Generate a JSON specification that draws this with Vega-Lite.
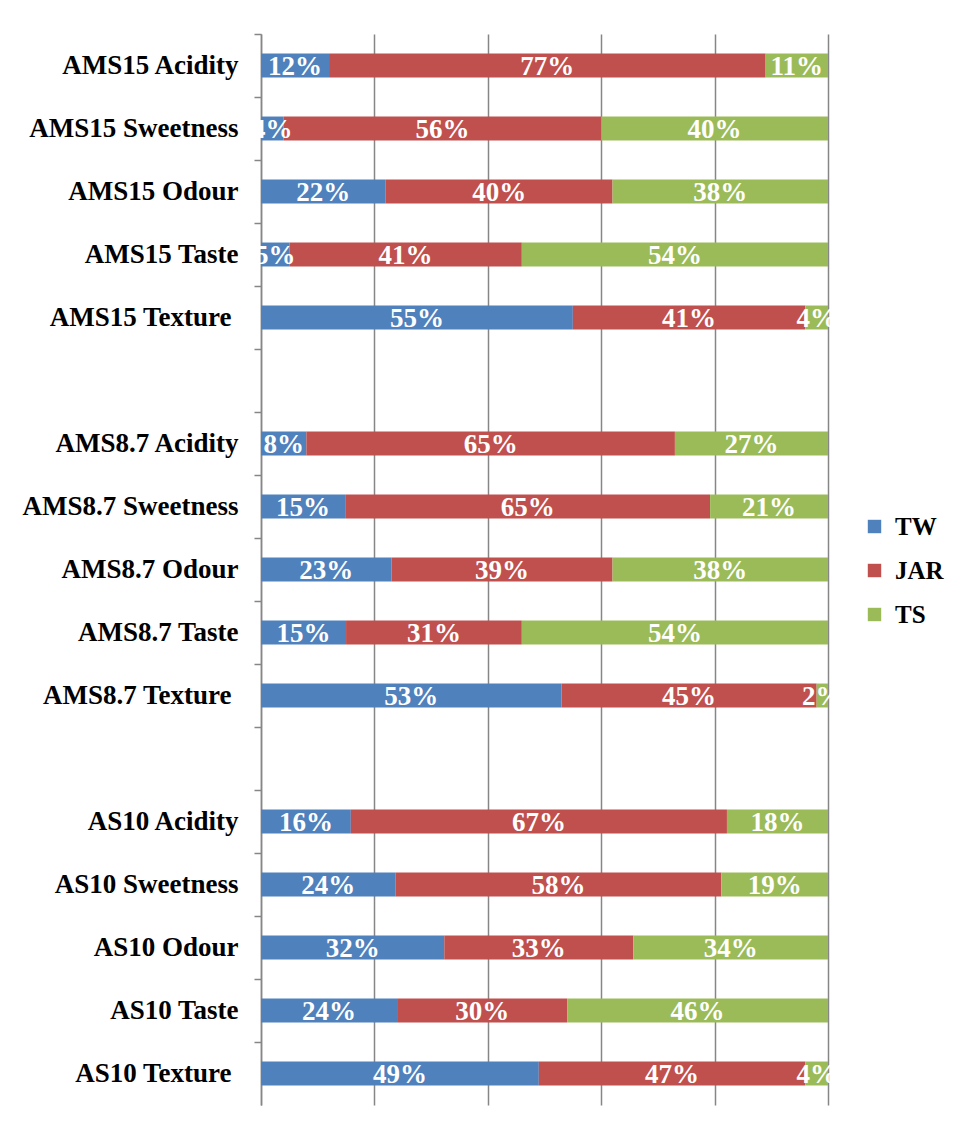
{
  "$schema": "https://vega.github.io/schema/vega-lite/v6.json",
  "width": 567,
  "height": 1071,
  "autosize": {"type": "none"},
  "padding": {"left": 261, "top": 34, "right": 128, "bottom": 26},
  "background": "white",
  "config": {"view": {"stroke": null}, "font": "Liberation Serif"},
  "data": {
    "values": [
      {"item": "AMS15 Acidity", "s": "TW", "k": 0, "v": 0.12},
      {"item": "AMS15 Acidity", "s": "JAR", "k": 1, "v": 0.77},
      {"item": "AMS15 Acidity", "s": "TS", "k": 2, "v": 0.11},
      {"item": "AMS15 Sweetness", "s": "TW", "k": 0, "v": 0.04},
      {"item": "AMS15 Sweetness", "s": "JAR", "k": 1, "v": 0.56},
      {"item": "AMS15 Sweetness", "s": "TS", "k": 2, "v": 0.40},
      {"item": "AMS15 Odour", "s": "TW", "k": 0, "v": 0.22},
      {"item": "AMS15 Odour", "s": "JAR", "k": 1, "v": 0.40},
      {"item": "AMS15 Odour", "s": "TS", "k": 2, "v": 0.38},
      {"item": "AMS15 Taste", "s": "TW", "k": 0, "v": 0.05},
      {"item": "AMS15 Taste", "s": "JAR", "k": 1, "v": 0.41},
      {"item": "AMS15 Taste", "s": "TS", "k": 2, "v": 0.54},
      {"item": "AMS15 Texture", "s": "TW", "k": 0, "v": 0.55},
      {"item": "AMS15 Texture", "s": "JAR", "k": 1, "v": 0.41},
      {"item": "AMS15 Texture", "s": "TS", "k": 2, "v": 0.04},
      {"item": "AMS8.7 Acidity", "s": "TW", "k": 0, "v": 0.08},
      {"item": "AMS8.7 Acidity", "s": "JAR", "k": 1, "v": 0.65},
      {"item": "AMS8.7 Acidity", "s": "TS", "k": 2, "v": 0.27},
      {"item": "AMS8.7 Sweetness", "s": "TW", "k": 0, "v": 0.15},
      {"item": "AMS8.7 Sweetness", "s": "JAR", "k": 1, "v": 0.65},
      {"item": "AMS8.7 Sweetness", "s": "TS", "k": 2, "v": 0.21},
      {"item": "AMS8.7 Odour", "s": "TW", "k": 0, "v": 0.23},
      {"item": "AMS8.7 Odour", "s": "JAR", "k": 1, "v": 0.39},
      {"item": "AMS8.7 Odour", "s": "TS", "k": 2, "v": 0.38},
      {"item": "AMS8.7 Taste", "s": "TW", "k": 0, "v": 0.15},
      {"item": "AMS8.7 Taste", "s": "JAR", "k": 1, "v": 0.31},
      {"item": "AMS8.7 Taste", "s": "TS", "k": 2, "v": 0.54},
      {"item": "AMS8.7 Texture", "s": "TW", "k": 0, "v": 0.53},
      {"item": "AMS8.7 Texture", "s": "JAR", "k": 1, "v": 0.45},
      {"item": "AMS8.7 Texture", "s": "TS", "k": 2, "v": 0.02},
      {"item": "AS10 Acidity", "s": "TW", "k": 0, "v": 0.16},
      {"item": "AS10 Acidity", "s": "JAR", "k": 1, "v": 0.67},
      {"item": "AS10 Acidity", "s": "TS", "k": 2, "v": 0.18},
      {"item": "AS10 Sweetness", "s": "TW", "k": 0, "v": 0.24},
      {"item": "AS10 Sweetness", "s": "JAR", "k": 1, "v": 0.58},
      {"item": "AS10 Sweetness", "s": "TS", "k": 2, "v": 0.19},
      {"item": "AS10 Odour", "s": "TW", "k": 0, "v": 0.32},
      {"item": "AS10 Odour", "s": "JAR", "k": 1, "v": 0.33},
      {"item": "AS10 Odour", "s": "TS", "k": 2, "v": 0.34},
      {"item": "AS10 Taste", "s": "TW", "k": 0, "v": 0.24},
      {"item": "AS10 Taste", "s": "JAR", "k": 1, "v": 0.30},
      {"item": "AS10 Taste", "s": "TS", "k": 2, "v": 0.46},
      {"item": "AS10 Texture", "s": "TW", "k": 0, "v": 0.49},
      {"item": "AS10 Texture", "s": "JAR", "k": 1, "v": 0.47},
      {"item": "AS10 Texture", "s": "TS", "k": 2, "v": 0.04}
    ]
  },
  "encoding": {
    "y": {
      "field": "item",
      "type": "nominal",
      "scale": {
        "domain": ["AMS15 Acidity", "AMS15 Sweetness", "AMS15 Odour", "AMS15 Taste", "AMS15 Texture", "gap1",
                   "AMS8.7 Acidity", "AMS8.7 Sweetness", "AMS8.7 Odour", "AMS8.7 Taste", "AMS8.7 Texture", "gap2",
                   "AS10 Acidity", "AS10 Sweetness", "AS10 Odour", "AS10 Taste", "AS10 Texture"],
        "paddingInner": 0,
        "paddingOuter": 0
      },
      "axis": {
        "title": null,
        "labelExpr": "indexof(datum.value, 'gap') == 0 ? '' : datum.value",
        "labelFont": "Liberation Serif",
        "labelFontSize": 27,
        "labelFontWeight": "bold",
        "labelColor": "black",
        "labelPadding": {"condition": {"test": "indexof(datum.value, 'Texture') >= 0", "value": 23}, "value": 16},
        "labelLimit": 400,
        "domainColor": "#868686",
        "domainWidth": 1.5,
        "tickColor": "#868686",
        "tickWidth": 1.5,
        "tickSize": 7,
        "bandPosition": 0,
        "grid": false
      }
    }
  },
  "layer": [
    {
      "mark": {"type": "bar", "height": {"band": 0.38}},
      "encoding": {
        "x": {
          "field": "v",
          "type": "quantitative",
          "stack": "normalize",
          "scale": {"domain": [0, 1]},
          "axis": {
            "title": null,
            "labels": false,
            "ticks": false,
            "domain": false,
            "grid": true,
            "values": [0, 0.2, 0.4, 0.6, 0.8, 1],
            "gridColor": "#868686",
            "gridWidth": 1.5,
            "gridOpacity": 1
          }
        },
        "color": {
          "field": "s",
          "type": "nominal",
          "scale": {"domain": ["TW", "JAR", "TS"], "range": ["#4F81BD", "#C0504D", "#9BBB59"]},
          "legend": {
            "title": null,
            "orient": "none",
            "legendX": 601,
            "legendY": 480,
            "padding": 0,
            "symbolType": "square",
            "symbolSize": 180,
            "symbolStrokeWidth": 0,
            "symbolOpacity": 1,
            "labelFont": "Liberation Serif",
            "labelFontSize": 25,
            "labelFontWeight": "bold",
            "labelColor": "black",
            "labelOffset": 8,
            "rowPadding": 18
          }
        },
        "order": {"field": "k", "type": "quantitative"}
      }
    },
    {
      "mark": {"type": "text", "color": "white", "font": "Liberation Serif", "fontSize": 27, "fontWeight": "bold", "baseline": "middle", "align": "center", "dy": 1},
      "encoding": {
        "x": {"field": "v", "type": "quantitative", "stack": "normalize", "bandPosition": 0.5},
        "detail": {"field": "s", "type": "nominal"},
        "order": {"field": "k", "type": "quantitative"},
        "text": {"field": "v", "type": "quantitative", "format": ".0%"}
      }
    }
  ]
}
